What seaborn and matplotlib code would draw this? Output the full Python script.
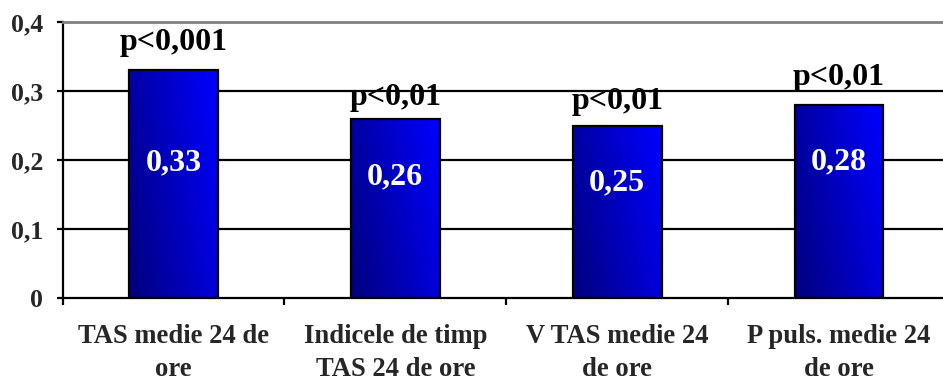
import numpy as np
import pandas as pd
import matplotlib
matplotlib.use("Agg")
import matplotlib.pyplot as plt
from matplotlib.colors import LinearSegmentedColormap
import seaborn as sns

# Chart data
categories = [
    "TAS medie 24 de\nore",
    "Indicele de timp\nTAS 24 de ore",
    "V TAS medie 24\nde ore",
    "P puls. medie 24\nde ore",
]
values = [0.33, 0.26, 0.25, 0.28]
p_labels = ["p<0,001", "p<0,01", "p<0,01", "p<0,01"]
y_ticks = [0.0, 0.1, 0.2, 0.3, 0.4]
y_tick_labels = ["0", "0,1", "0,2", "0,3", "0,4"]

df = pd.DataFrame({"categorie": categories, "valoare": values})

sns.set_theme(style="white")
plt.rcParams["font.family"] = ["Liberation Serif", "DejaVu Serif"]
plt.rcParams["font.weight"] = "bold"

fig = plt.figure(figsize=(9.43, 3.83), dpi=100)
W, H = 943, 383
ax = fig.add_axes([62.5 / W, 85 / H, (950 - 62.5) / W, 276 / H])

sns.barplot(data=df, x="categorie", y="valoare", ax=ax, width=0.4,
            color="#0000C0", edgecolor="black", linewidth=1.6, zorder=3)

ax.set_xlim(-0.5, 3.5)
ax.set_ylim(0, 0.4)

# gradient fill: dark navy at the upper left to bright blue at the lower right
cmap = LinearSegmentedColormap.from_list("navy_blue", ["#00007C", "#0000FF"])
gx, gy = np.meshgrid(np.linspace(0, 1, 120), np.linspace(0, 1, 120))
grad = np.clip(0.72 * gx + 0.3 * gy, 0, 1)
for patch in ax.patches:
    x0, y0 = patch.get_x(), patch.get_y()
    w, h = patch.get_width(), patch.get_height()
    im = ax.imshow(grad, cmap=cmap, vmin=0, vmax=1, aspect="auto",
                   extent=(x0, x0 + w, y0 + h, y0), origin="upper",
                   zorder=3, interpolation="bilinear")
    im.set_clip_path(patch)
    patch.set_facecolor("none")
    patch.set_zorder(4)

ax.set_xlim(-0.5, 3.5)
ax.set_ylim(0, 0.4)

# horizontal grid lines
for yv in y_ticks[1:-1]:
    ax.axhline(yv, color="black", linewidth=1.6, zorder=1)

ax.spines["right"].set_visible(False)
ax.spines["top"].set_color("#808080")
ax.spines["top"].set_linewidth(2.0)
ax.spines["left"].set_color("black")
ax.spines["left"].set_linewidth(1.6)
ax.spines["bottom"].set_color("black")
ax.spines["bottom"].set_linewidth(1.6)
ax.spines["bottom"].set_zorder(5)

ax.set_yticks(y_ticks)
ax.set_yticklabels(y_tick_labels, fontsize=18.5, fontweight="bold")
ax.tick_params(axis="y", direction="out", length=4, width=1.6, color="black",
               pad=10, left=True)

ax.set_xticks(range(len(categories)))
ax.set_xticklabels(categories, fontsize=19.2, fontweight="bold", linespacing=1.4)
ax.tick_params(axis="x", which="major", length=0, pad=19)
ax.set_xticks([-0.5, 0.5, 1.5, 2.5], minor=True)
ax.tick_params(axis="x", which="minor", direction="out", length=5, width=1.6,
               color="black", bottom=True)
ax.set_xlabel("")
ax.set_ylabel("")

# significance above the bars and values inside them
p_label_y = [0.371, 0.290, 0.2855, 0.320]
value_label_y = [0.196, 0.175, 0.167, 0.197]
for i, (v, p) in enumerate(zip(values, p_labels)):
    ax.text(i, p_label_y[i], p, ha="center", va="center", fontsize=23,
            fontweight="bold", color="black", zorder=6)
    ax.text(i, value_label_y[i], f"{v:.2f}".replace(".", ","), ha="center",
            va="center", fontsize=23, fontweight="bold", color="white", zorder=6)

fig.savefig("out.png", dpi=100)
